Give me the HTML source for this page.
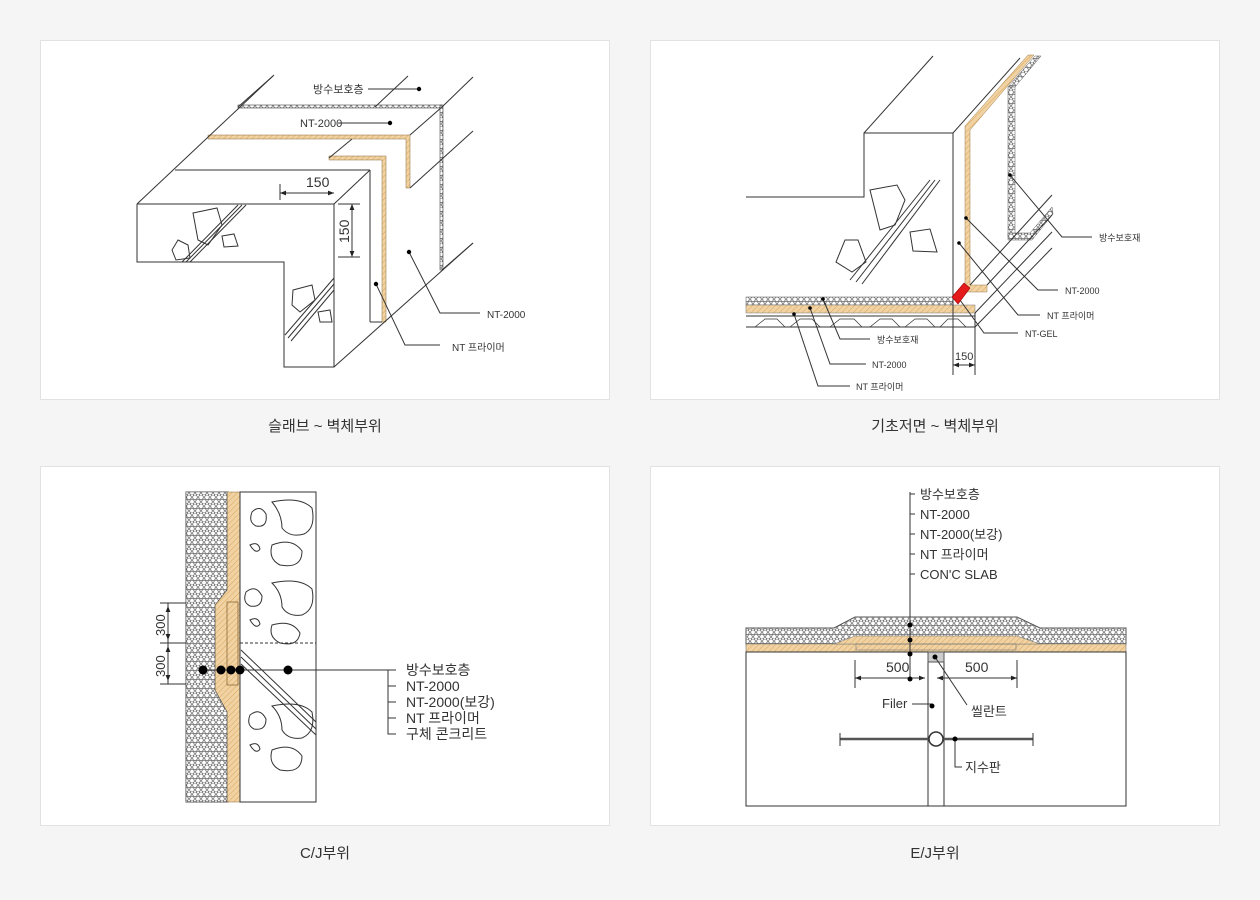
<!DOCTYPE html>
<html><head><meta charset="utf-8">
<style>
html,body{margin:0;padding:0;background:#f5f5f5;}
svg{display:block;}
.t{font-family:"Liberation Sans","Noto Sans CJK KR",sans-serif;fill:#333;}
.s{font-family:"Liberation Sans","Noto Sans CJK KR",sans-serif;fill:#333;}
</style></head><body>
<svg width="1260" height="900" viewBox="0 0 1260 900" xmlns="http://www.w3.org/2000/svg">
<defs>
<pattern id="hex" width="6" height="9" patternUnits="userSpaceOnUse">
<rect width="6" height="9" fill="#fff"/>
<circle cx="3" cy="2.25" r="2.3" fill="none" stroke="#444" stroke-width="0.7"/>
<circle cx="0" cy="6.75" r="2.3" fill="none" stroke="#444" stroke-width="0.7"/>
<circle cx="6" cy="6.75" r="2.3" fill="none" stroke="#444" stroke-width="0.7"/>
</pattern>
<pattern id="tan" width="4" height="4" patternUnits="userSpaceOnUse" patternTransform="rotate(45)">
<rect width="4" height="4" fill="#f1d3a3"/>
<line x1="0" y1="0" x2="0" y2="4" stroke="#d9a45c" stroke-width="1"/>
</pattern>
<marker id="ar" viewBox="0 0 10 10" refX="10" refY="5" markerWidth="8" markerHeight="6" orient="auto-start-reverse"><path d="M0,1 L10,5 L0,9z" fill="#222"/></marker>
</defs>

<rect x="40.5" y="40.5" width="569" height="359" fill="#fff" stroke="#e2e2e2"/>
<rect x="650.5" y="40.5" width="569" height="359" fill="#fff" stroke="#e2e2e2"/>
<rect x="40.5" y="466.5" width="569" height="359" fill="#fff" stroke="#e2e2e2"/>
<rect x="650.5" y="466.5" width="569" height="359" fill="#fff" stroke="#e2e2e2"/>

<text class="t" x="325" y="431" font-size="15" text-anchor="middle">슬래브 ~ 벽체부위</text>
<text class="t" x="935" y="431" font-size="15" text-anchor="middle">기초저면 ~ 벽체부위</text>
<text class="t" x="325" y="858" font-size="15" text-anchor="middle">C/J부위</text>
<text class="t" x="935" y="858" font-size="15" text-anchor="middle">E/J부위</text>

<!-- PANEL 1 -->
<g stroke="#333" stroke-width="1" fill="none">
<rect x="238" y="105" width="204" height="3" fill="url(#hex)" stroke="#444" stroke-width="0.6"/>
<rect x="440" y="105" width="3" height="165" fill="url(#hex)" stroke="#444" stroke-width="0.6"/>
<polygon points="208,135 410,135 410,188 406,188 406,139 208,139" fill="url(#tan)" stroke="#8a6a3a" stroke-width="0.5"/>
<polygon points="329,156 386,156 386,322 382,322 382,160 329,160" fill="url(#tan)" stroke="#8a6a3a" stroke-width="0.5"/>
<line x1="137" y1="204" x2="274" y2="75"/>
<line x1="175" y1="170" x2="370" y2="170"/>
<line x1="238" y1="107" x2="273" y2="76"/>
<line x1="375" y1="107" x2="408" y2="76"/>
<line x1="442" y1="107" x2="473" y2="77"/>
<line x1="410" y1="135" x2="442" y2="107"/>
<line x1="329" y1="158" x2="352" y2="139"/>
<line x1="410" y1="188" x2="473" y2="131"/>
<line x1="442" y1="270" x2="473" y2="243"/>
<line x1="334" y1="367" x2="473" y2="243"/>
<line x1="334" y1="204" x2="370" y2="170"/>
<line x1="370" y1="170" x2="370" y2="322"/>
<line x1="370" y1="322" x2="382" y2="322"/>
<polyline points="137,204 334,204 334,367 284,367 284,262 137,262 137,204"/>
<polygon points="193,213 217,208 222,225 208,245 198,240"/>
<polygon points="178,240 188,245 190,258 176,260 172,250"/>
<polygon points="222,236 234,234 238,246 224,247"/>
<line x1="182" y1="262" x2="238" y2="205"/>
<line x1="186" y1="262" x2="242" y2="205"/>
<line x1="190" y1="262" x2="246" y2="205"/>
<polygon points="293,290 312,285 315,300 300,312 292,305"/>
<polygon points="318,312 330,310 332,322 320,322"/>
<line x1="285" y1="335" x2="334" y2="278"/>
<line x1="288" y1="338" x2="334" y2="284"/>
<line x1="291" y1="341" x2="334" y2="290"/>
<line x1="280" y1="193" x2="334" y2="193" marker-start="url(#ar)" marker-end="url(#ar)"/>
<line x1="280" y1="184" x2="280" y2="200"/>
<line x1="352" y1="204" x2="352" y2="257" marker-start="url(#ar)" marker-end="url(#ar)"/>
<line x1="338" y1="257" x2="360" y2="257"/>
<line x1="338" y1="204" x2="360" y2="204"/>
<line x1="368" y1="89" x2="419" y2="89"/>
<line x1="338" y1="123" x2="390" y2="123"/>
<polyline points="409,252 440,313 480,313"/>
<polyline points="376,284 405,345 440,345"/>
</g>
<g fill="#000"><circle cx="419" cy="89" r="2.2"/><circle cx="390" cy="123" r="2.2"/><circle cx="409" cy="252" r="2.2"/><circle cx="376" cy="284" r="2.2"/></g>
<text class="s" x="313" y="93" font-size="11">방수보호층</text>
<text class="s" x="300" y="127" font-size="11">NT-2000</text>
<text class="s" x="306" y="187" font-size="14">150</text>
<text class="s" x="0" y="0" font-size="14" transform="translate(349,243) rotate(-90)">150</text>
<text class="s" x="487" y="318" font-size="10">NT-2000</text>
<text class="s" x="452" y="351" font-size="10">NT 프라이머</text>

<!-- PANEL 2 -->
<g stroke="#333" stroke-width="1" fill="none">
<polyline points="746,197 864,197 864,133 953,133 953,298"/>
<line x1="864" y1="133" x2="933" y2="56"/>
<line x1="953" y1="133" x2="1020" y2="58"/>
<polygon points="965,126 1028,55 1034,55 970,130 970,285 987,285 987,292 965,292" fill="url(#tan)" stroke="#9a7a4a" stroke-width="0.5"/>
<polygon points="1035,56 1041,56 1015,87 1008,87" fill="url(#hex)" stroke="#555" stroke-width="0.5"/>
<rect x="1008" y="87" width="7" height="150" fill="url(#hex)" stroke="#555" stroke-width="0.5"/>
<polygon points="1008,233 1030,233 1052,207 1053,214 1032,240 1008,240" fill="url(#hex)" stroke="#555" stroke-width="0.5"/>
<rect x="746" y="297" width="207" height="8" fill="url(#hex)" stroke="#555" stroke-width="0.5"/>
<rect x="746" y="305" width="229" height="8" fill="url(#tan)" stroke="#777" stroke-width="0.5"/>
<line x1="746" y1="316" x2="975" y2="316"/>
<line x1="746" y1="327" x2="975" y2="327"/>
<path d="M755,327 l10,-8 h12 l8,8 M790,327 l10,-8 h12 l8,8 M830,327 l10,-8 h14 l8,8 M870,327 l10,-8 h12 l8,8 M905,327 l10,-8 h12 l8,8 M940,327 l8,-8 h10 l8,8" stroke-width="0.7"/>
<line x1="975" y1="313" x2="1052" y2="232"/>
<line x1="975" y1="327" x2="1052" y2="248"/>
<line x1="987" y1="285" x2="1052" y2="215"/>
<line x1="970" y1="285" x2="1052" y2="195"/>
<polygon points="870,190 897,185 905,200 895,225 880,230" />
<polygon points="845,240 858,240 866,262 852,272 836,262"/>
<polygon points="910,232 930,229 937,252 913,251"/>
<line x1="850" y1="280" x2="930" y2="180"/><line x1="856" y1="282" x2="935" y2="180"/><line x1="862" y1="284" x2="940" y2="180"/>
<line x1="953" y1="298" x2="953" y2="375"/><line x1="975" y1="313" x2="975" y2="375"/>
<line x1="953" y1="365" x2="975" y2="365" marker-start="url(#ar)" marker-end="url(#ar)"/>
<polyline points="1010,175 1062,237 1092,237"/>
<polyline points="966,218 1038,290 1058,290"/>
<polyline points="959,243 1018,315 1040,315"/>
<polyline points="960,300 984,333 1018,333"/>
<polyline points="823,299 840,339 870,339"/>
<polyline points="810,308 830,364 866,364"/>
<polyline points="794,314 818,386 850,386"/>
</g>
<polygon points="952,297 964,283 970,288 958,304" fill="#e51b1b" stroke="#900" stroke-width="0.6"/>
<g fill="#000"><circle cx="1010" cy="175" r="1.8"/><circle cx="966" cy="218" r="1.8"/><circle cx="959" cy="243" r="1.8"/><circle cx="823" cy="299" r="1.8"/><circle cx="810" cy="308" r="1.8"/><circle cx="794" cy="314" r="1.8"/></g>
<text class="s" x="1099" y="241" font-size="9">방수보호재</text>
<text class="s" x="1065" y="294" font-size="9">NT-2000</text>
<text class="s" x="1047" y="319" font-size="9">NT 프라이머</text>
<text class="s" x="1025" y="337" font-size="9">NT-GEL</text>
<text class="s" x="877" y="343" font-size="9">방수보호재</text>
<text class="s" x="872" y="368" font-size="9">NT-2000</text>
<text class="s" x="856" y="390" font-size="9">NT 프라이머</text>
<text class="s" x="955" y="360" font-size="11">150</text>

<!-- PANEL 3 -->
<g stroke="#333" stroke-width="1" fill="none">
<rect x="186" y="492" width="42" height="310" fill="url(#hex)" stroke="#555"/>
<polygon points="227,492 240,492 240,802 227,802 227,712 215,690 215,605 227,590" fill="url(#tan)" stroke="#8a6a3a" stroke-width="0.6"/>
<polygon points="186,802 186,492 227,492 227,590 215,605 215,690 227,712 227,802" fill="url(#hex)" stroke="#555" stroke-width="0.6"/>
<rect x="227" y="602" width="11" height="83" stroke="#8a6a3a" stroke-width="0.8"/>
<rect x="240" y="492" width="76" height="310"/>
<line x1="240" y1="643" x2="316" y2="643" stroke-dasharray="3,2"/>
<line x1="241" y1="650" x2="316" y2="722"/><line x1="241" y1="657" x2="316" y2="729"/><line x1="241" y1="664" x2="316" y2="735"/>
<path d="M252,512 q8,-8 14,2 q2,14 -10,12 q-8,-4 -4,-14z"/>
<path d="M272,502 q28,-6 40,6 q4,20 -8,26 q-14,4 -22,-6 q0,-14 -10,-26z"/>
<path d="M250,545 q8,-4 10,4 q-4,6 -10,-4z"/>
<path d="M272,545 q20,-8 30,6 q0,18 -22,14 q-12,-6 -8,-20z"/>
<path d="M246,592 q10,-8 16,4 q0,12 -12,10 q-8,-4 -4,-14z"/>
<path d="M272,583 q28,-6 40,6 q4,20 -10,26 q-14,2 -20,-8 q0,-14 -10,-24z"/>
<path d="M250,620 q8,-4 10,4 q-4,6 -10,-4z"/>
<path d="M272,625 q20,-6 28,8 q-2,14 -20,10 q-12,-6 -8,-18z"/>
<path d="M250,715 q10,-8 16,4 q0,12 -12,10 q-8,-4 -4,-14z"/>
<path d="M272,706 q28,-6 40,6 q4,20 -10,26 q-14,2 -20,-8 q0,-14 -10,-24z"/>
<path d="M250,745 q8,-4 10,4 q-4,6 -10,-4z"/>
<path d="M272,750 q20,-8 30,6 q0,18 -22,14 q-12,-6 -8,-20z"/>
<line x1="203" y1="670" x2="388" y2="670"/>
<line x1="168" y1="603" x2="168" y2="684" />
<line x1="168" y1="606" x2="168" y2="640" marker-start="url(#ar)" marker-end="url(#ar)"/>
<line x1="168" y1="646" x2="168" y2="681" marker-start="url(#ar)" marker-end="url(#ar)"/>
<line x1="160" y1="603" x2="186" y2="603"/><line x1="160" y1="643" x2="186" y2="643"/><line x1="160" y1="684" x2="186" y2="684"/>
<polyline points="396,670 388,670 388,734 396,734"/>
<line x1="388" y1="686" x2="396" y2="686"/><line x1="388" y1="702" x2="396" y2="702"/><line x1="388" y1="718" x2="396" y2="718"/>
</g>
<g fill="#000"><circle cx="203" cy="670" r="4.5"/><circle cx="221" cy="670" r="4.5"/><circle cx="231" cy="670" r="4.5"/><circle cx="240" cy="670" r="4.5"/><circle cx="288" cy="670" r="4.5"/></g>
<text class="s" x="0" y="0" font-size="13" transform="translate(165,636) rotate(-90)">300</text>
<text class="s" x="0" y="0" font-size="13" transform="translate(165,677) rotate(-90)">300</text>
<g class="s" font-size="14"><text x="406" y="675">방수보호층</text><text x="406" y="691">NT-2000</text><text x="406" y="707">NT-2000(보강)</text><text x="406" y="723">NT 프라이머</text><text x="406" y="739">구체 콘크리트</text></g>

<!-- PANEL 4 -->
<g stroke="#333" stroke-width="1" fill="none">
<polygon points="746,628 834,628 855,617 1017,617 1040,628 1126,628 1126,644 746,644" fill="url(#hex)" stroke="#555"/>
<polygon points="746,644 1126,644 1126,652 746,652" fill="url(#tan)" stroke="#777" stroke-width="0.6"/>
<polygon points="834,644 855,636 1017,636 1040,644" fill="url(#tan)" stroke="#777" stroke-width="0.6"/>
<rect x="856" y="644" width="160" height="6" stroke="#777" stroke-width="0.6"/>
<rect x="746" y="652" width="380" height="154"/>
<line x1="928" y1="652" x2="928" y2="806"/><line x1="944" y1="652" x2="944" y2="806"/>
<rect x="928" y="652" width="16" height="10" fill="#ccc" stroke="#555"/>
<line x1="910" y1="492" x2="910" y2="680"/>
<path d="M910,494 h5 M910,514 h5 M910,534 h5 M910,554 h5 M910,574 h5"/>
<line x1="855" y1="660" x2="855" y2="688"/><line x1="1017" y1="660" x2="1017" y2="688"/>
<line x1="855" y1="678" x2="925" y2="678" marker-end="url(#ar)" marker-start="url(#ar)"/>
<line x1="937" y1="678" x2="1017" y2="678" marker-end="url(#ar)" marker-start="url(#ar)"/>
<line x1="935" y1="657" x2="967" y2="705"/>
<line x1="912" y1="704" x2="932" y2="704"/>
<line x1="840" y1="739" x2="1033" y2="739" stroke-width="2.5" stroke="#555"/>
<line x1="840" y1="733" x2="840" y2="746"/><line x1="1033" y1="733" x2="1033" y2="746"/>
<circle cx="936" cy="739" r="7" fill="#fff" stroke-width="1.5"/>
<polyline points="955,739 955,767 962,767"/>
</g>
<g fill="#000"><circle cx="910" cy="625" r="2.5"/><circle cx="910" cy="640" r="2.5"/><circle cx="910" cy="654" r="2.5"/><circle cx="910" cy="679" r="2.5"/><circle cx="935" cy="657" r="2.5"/><circle cx="932" cy="706" r="2.5"/><circle cx="955" cy="739" r="2.5"/></g>
<g class="s" font-size="13"><text x="920" y="499">방수보호층</text><text x="920" y="519">NT-2000</text><text x="920" y="539">NT-2000(보강)</text><text x="920" y="559">NT 프라이머</text><text x="920" y="579">CON'C SLAB</text></g>
<text class="s" x="886" y="672" font-size="14">500</text>
<text class="s" x="965" y="672" font-size="14">500</text>
<text class="s" x="882" y="708" font-size="13">Filer</text>
<text class="s" x="971" y="716" font-size="13">씰란트</text>
<text class="s" x="965" y="772" font-size="13">지수판</text>
</svg>
</body></html>
